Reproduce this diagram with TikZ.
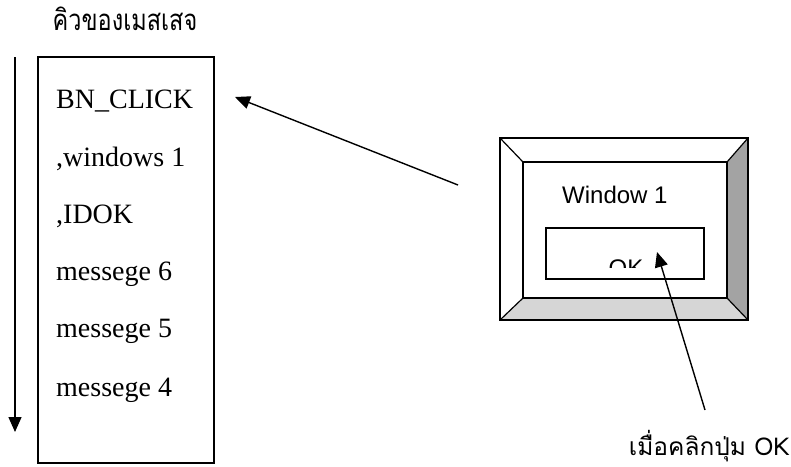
\documentclass[tikz,border=0pt]{standalone}
\usepackage{fontspec}
\usepackage{graphicx}
\setmainfont{Liberation Serif}
\newfontfamily\thaifont[Script=Thai]{Loma}
\newfontfamily\arialfont{Liberation Sans}
\usetikzlibrary{arrows.meta}
\tikzset{
  msg/.style={anchor=base west, inner sep=0pt, font=\fontsize{28}{32}\selectfont},
  thaitext/.style={inner sep=0pt, font=\thaifont\fontsize{23.5}{28}\selectfont},
  arrowline/.style={line width=1.4pt, -{Triangle[length=15pt,width=13pt]}},
  frame/.style={draw, line width=1.5pt},
}
\begin{document}
\begin{tikzpicture}[x=1pt,y=-1pt]
\useasboundingbox (0,0) rectangle (791,466);
% title
\node[thaitext, anchor=base] (title) at (125,30) {\scalebox{1}[1.25]{คิวของเมสเสจ}};
% queue direction arrow
\coordinate (qtop) at (15,57);
\coordinate (qbot) at (15,432);
\draw[arrowline] (qtop) -- (qbot);
% queue box
\node[frame, minimum width=176pt, minimum height=406pt, inner sep=0pt] (queue) at (126,260) {};
\node[msg] (m1) at (56,108) {BN\_CLICK};
\node[msg] (m2) at (56,166) {,windows 1};
\node[msg] (m3) at (56,223) {,IDOK};
\node[msg] (m4) at (56,280) {messege 6};
\node[msg] (m5) at (56,337) {messege 5};
\node[msg] (m6) at (56,396) {messege 4};
% window
\coordinate (o1) at (500,138);
\coordinate (o2) at (748,138);
\coordinate (o3) at (748,320);
\coordinate (o4) at (500,320);
\coordinate (i1) at (523,162);
\coordinate (i2) at (727,162);
\coordinate (i3) at (727,298);
\coordinate (i4) at (523,298);
\fill[gray!72] (o2) -- (o3) -- (i3) -- (i2) -- cycle;
\fill[gray!32] (o4) -- (o3) -- (i3) -- (i4) -- cycle;
\draw[frame] (o1) rectangle (o3);
\draw[frame] (i1) rectangle (i3);
\draw[line width=1.2pt] (o1) -- (i1) (o2) -- (i2) (o3) -- (i3) (o4) -- (i4);
\node[anchor=base west, inner sep=0pt, font=\arialfont\fontsize{24}{28}\selectfont] (wtitle) at (562,203) {Window 1};
\node[frame, minimum width=158pt, minimum height=51pt, inner sep=0pt] (button) at (625,253.5) {};
\begin{scope}
\clip (595,250) rectangle (660,267);
\node[anchor=base, inner sep=0pt, font=\arialfont\fontsize{24}{28}\selectfont] (ok) at (626,276) {OK};
\end{scope}
% click label
\node[inner sep=0pt, anchor=base east, font=\thaifont\fontsize{24.5}{28}\selectfont] (click) at (790,455) {เมื่อคลิกปุ่ม OK};
% arrows
\coordinate (a1s) at (458,185);
\coordinate (a1e) at (235,97);
\draw[arrowline] (a1s) -- (a1e);
\coordinate (a2s) at (705,410);
\coordinate (a2e) at (657,252);
\draw[arrowline] (a2s) -- (a2e);
\end{tikzpicture}
\end{document}
